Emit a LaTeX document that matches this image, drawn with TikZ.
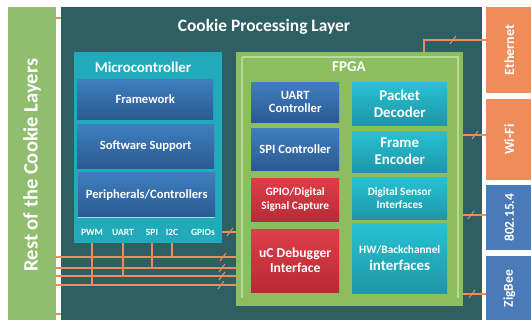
\documentclass[tikz,border=0pt]{standalone}
\usepackage{fontspec}
\setmainfont{Carlito}
\usetikzlibrary{calc}
\definecolor{teal0}{HTML}{2E5F62}
\definecolor{leaf}{HTML}{91BD6E}
\definecolor{orng}{HTML}{F08C5A}
\definecolor{sblue}{HTML}{4A7AB8}
\definecolor{mcyan}{HTML}{21AABA}
\definecolor{fgreen}{HTML}{8CBE5F}
\definecolor{fgreenl}{HTML}{B8DA98}
\definecolor{btop}{HTML}{3F7EBF}
\definecolor{bbot}{HTML}{2C5A92}
\definecolor{rtop}{HTML}{DE3E48}
\definecolor{rbot}{HTML}{B82A36}
\definecolor{ctop}{HTML}{27C2D3}
\definecolor{cbot}{HTML}{1E96A6}
\newcommand\fs[2]{\bfseries\fontsize{#1}{#2}\selectfont}
\tikzset{
  px/.style={x=1pt,y=-1pt},
  flat/.style={rectangle,inner sep=0pt,anchor=north west,align=center,text=white,font=\bfseries},
  bluebox/.style={flat,top color=btop,bottom color=bbot},
  redbox/.style={flat,top color=rtop,bottom color=rbot},
  cyanbox/.style={flat,top color=ctop,bottom color=cbot},
  wire/.style={draw=orng,line width=1.3pt},
  busmark/.pic={\draw[wire,line width=1pt] (-3,4) -- (3,-4);},
  lab/.style={text=white,font=\fs{9.5}{11},inner sep=0pt},
  vlab/.style={rotate=90,text=white,font=\fs{13.5}{16}}
}
\begin{document}
\begin{tikzpicture}[px]
\useasboundingbox[fill=white] (0,0) rectangle (531,320);
% left strip
\node[flat,fill=leaf,minimum width=48pt,minimum height=313pt] (rest) at (8,7) {};
\node[rotate=90,text=white,font=\fs{20.5}{24}] at (32,165) {Rest of the Cookie Layers};
% main layer
\node[flat,fill=teal0,minimum width=421pt,minimum height=313pt] (layer) at (61,7) {};
\node[text=white,font=\fs{17.4}{20}] (ltitle) at (264,27) {Cookie Processing Layer};
% right blocks
\node[flat,fill=orng,minimum width=46pt,minimum height=86pt] (eth) at (486,7) {};
\node[vlab,font=\fs{14}{16}] at (eth.center) {Ethernet};
\node[flat,fill=orng,minimum width=46pt,minimum height=81pt] (wifi) at (486,99) {};
\node[vlab,font=\fs{14}{16}] at (wifi.center) {Wi-Fi};
\node[flat,fill=sblue,minimum width=46pt,minimum height=65pt] (ieee) at (486,185) {};
\node[vlab] at (ieee.center) {802.15.4};
\node[flat,fill=sblue,minimum width=46pt,minimum height=65pt] (zig) at (486,256) {};
\node[vlab] at (zig.center) {ZigBee};
% microcontroller
\node[flat,fill=mcyan,minimum width=148pt,minimum height=191pt] (mc) at (74,52) {};
\node[text=white,font=\fs{14.9}{17}] at (143,67) {Microcontroller};
\node[bluebox,minimum width=136pt,minimum height=40pt,font=\fs{12.6}{15}] (fw) at (77,79) {Framework};
\node[bluebox,minimum width=137pt,minimum height=44pt,font=\fs{12.6}{15}] (ss) at (77,124) {Software Support};
\node[bluebox,minimum width=137pt,minimum height=45pt,font=\fs{12.6}{15}] (per) at (78,172) {Peripherals/Controllers};
\draw[draw=ctop!50!white,line width=1pt] (per.south west) -- (per.south east);
\node[lab] (pwm) at (92,232) {PWM};
\node[lab] (uart) at (123,232) {UART};
\node[lab] (spi) at (152,232) {SPI};
\node[lab] (iic) at (172,232) {I2C};
\node[lab] (gpio) at (203,232) {GPIOs};
% FPGA
\node[flat,fill=fgreen,minimum width=227pt,minimum height=254pt] (fpga) at (236,52) {};
\draw[draw=fgreenl,line width=1.2pt] (242,57) -- (458,57) -- (458,298) (242,57) -- (242,298);
\node[text=white,font=\fs{15}{17}] at (349,67) {FPGA};
\node[bluebox,minimum width=88pt,minimum height=40pt,font=\fs{12.6}{13.5}] (uc) at (251,82) {UART\\Controller};
\node[bluebox,minimum width=88pt,minimum height=42pt,font=\fs{12.6}{14}] (sc) at (251,128) {SPI Controller};
\node[redbox,minimum width=88pt,minimum height=43pt,font=\fs{11.3}{14}] (gd) at (251,178) {GPIO/Digital\\Signal Capture};
\node[redbox,minimum width=88pt,minimum height=63pt,font=\fs{13.6}{15}] (dbg) at (251,229) {uC Debugger\\Interface};
\node[cyanbox,minimum width=95pt,minimum height=43pt,font=\fs{14.9}{17}] (pd) at (352,82) {Packet\\Decoder};
\node[cyanbox,minimum width=95pt,minimum height=41pt,font=\fs{14.9}{17}] (fe) at (352,131) {Frame\\Encoder};
\node[cyanbox,minimum width=95pt,minimum height=42pt,font=\fs{11.2}{13}] (ds) at (352,177) {Digital Sensor\\Interfaces};
\node[cyanbox,minimum width=95pt,minimum height=70pt,font=\fs{11.3}{17}] (hw) at (352,223) {HW/Backchannel\\{\fs{14.9}{17}interfaces}};
% buses to the left
\coordinate (b1) at (56,257);
\coordinate (b2) at (56,268);
\coordinate (b3) at (56,276);
\coordinate (b4) at (56,285);
\foreach \b in {b1,b2,b3,b4}{\draw[wire] (\b) -- (fpga.west |- \b);}
\draw[wire] (mc.south -| iic) -- (iic |- b1);
\draw[wire] (mc.south -| spi) -- (spi |- b2);
\draw[wire] (mc.south -| uart) -- (uart |- b3);
\draw[wire] (mc.south -| pwm) -- (pwm |- b4);
\path (223,257) pic{busmark} (222,268) pic{busmark} (222,276) pic{busmark} (221,285) pic{busmark};
\draw[wire] (mc.east |- gpio) -- (fpga.west |- gpio);
\path (230,232) pic{busmark};
% stubs on the left
\coordinate (s1) at (56,18);
\coordinate (s2) at (56,314);
\draw[wire] (s1) -- (layer.west |- s1);
\draw[wire] (s2) -- (layer.west |- s2);
% to the right
\coordinate (ec) at (424,40);
\draw[wire] (fpga.north -| ec) -- (ec) -- (eth.west |- ec);
\path (453,40) pic{busmark};
\coordinate (wc) at (463,135);
\draw[wire] (wc) -- (wifi.west |- wc);
\path (475,135) pic{busmark};
\coordinate (ic) at (463,215);
\draw[wire] (ic) -- (ieee.west |- ic);
\path (471,215) pic{busmark};
\coordinate (zc) at (463,294);
\draw[wire] (zc) -- (zig.west |- zc);
\path (472,294) pic{busmark};
\end{tikzpicture}
\end{document}
